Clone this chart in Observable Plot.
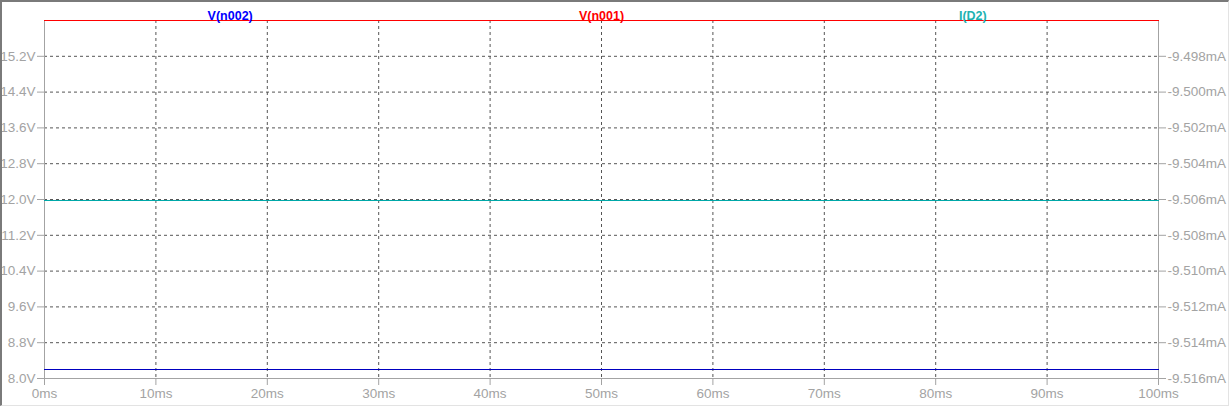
<!DOCTYPE html>
<html>
<head>
<meta charset="utf-8">
<script src="https://cdn.jsdelivr.net/npm/d3@7"></script>
<script src="https://cdn.jsdelivr.net/npm/@observablehq/plot@0.6"></script>
<style>
  html, body { margin: 0; padding: 0; background: #fff; }
  #wrap { position: relative; width: 1229px; height: 406px; overflow: hidden; }
  #frame { position: absolute; left: 0; top: 0; width: 1226px; height: 403px;
           border-left: 2px solid #7a7a7a; border-top: 2px solid #7a7a7a;
           border-right: 1px solid #e3e3e3; border-bottom: 1px solid #e3e3e3;
           box-sizing: content-box; pointer-events: none; }
  svg { display: block; }
</style>
</head>
<body>
<div id="wrap"><div id="frame"></div></div>
<script>
// ---- data ----
const timeMs = [0, 100];
const vN002 = [8.19, 8.19];        // V
const vN001 = [16.0, 16.0];        // V
const iD2 = [-9.50608, -9.50608];  // mA
const seriesNames = ["V(n002)", "V(n001)", "I(D2)"];
const seriesColors = ["#0000c0", "#ff0000", "#00a8a8"];
const labelColors = ["#0000ff", "#ff0000", "#20b2b2"];
const xTicks = [0, 10, 20, 30, 40, 50, 60, 70, 80, 90, 100];
const yTicksV = [8.0, 8.8, 9.6, 10.4, 11.2, 12.0, 12.8, 13.6, 14.4, 15.2];
const yTicksMA = ["-9.516mA", "-9.514mA", "-9.512mA", "-9.510mA", "-9.508mA", "-9.506mA", "-9.504mA", "-9.502mA", "-9.500mA", "-9.498mA"];
const yDomainV = [8, 16];
const mADomain = [-9.516, -9.496];

// map mA onto the left (volts) scale
const mAtoV = d3.scaleLinear().domain(mADomain).range(yDomainV);

const rows = [];
timeMs.forEach((t, i) => {
  rows.push({t, v: vN002[i], s: seriesNames[0]});
  rows.push({t, v: vN001[i], s: seriesNames[1]});
  rows.push({t, v: mAtoV(iD2[i]), s: seriesNames[2]});
});

const labels = seriesNames.map((s, i) => ({
  s, t: timeMs[0] + (timeMs[1] - timeMs[0]) * (i + 0.5) / seriesNames.length
}));

const gray = "#a3a3a3";
const chart = Plot.plot({
  width: 1229,
  height: 406,
  marginLeft: 44,
  marginRight: 71,
  marginTop: 20,
  marginBottom: 28,
  style: { fontFamily: "'Liberation Sans', Arial, sans-serif", fontSize: "13px", background: "transparent" },
  x: { domain: [0, 100] },
  y: { domain: yDomainV },
  color: { domain: seriesNames, range: seriesColors },
  marks: [
    Plot.gridX(xTicks.slice(1, -1), { stroke: "#555", strokeOpacity: 1, strokeDasharray: "3,3" }),
    Plot.gridY(yTicksV.slice(1), { stroke: "#555", strokeOpacity: 1, strokeDasharray: "3,3" }),
    Plot.axisX(xTicks, { tickSize: 7, tickPadding: 3, stroke: gray, color: gray, tickFormat: d => d + "ms", label: null, fontSize: 13.5 }),
    Plot.axisY(yTicksV, { anchor: "left", tickSize: 7, tickPadding: 2, stroke: gray, color: gray, tickFormat: d => d.toFixed(1) + "V", label: null, fontSize: 13.5 }),
    Plot.axisY(yTicksV, { anchor: "right", tickSize: 7, tickPadding: 2, stroke: gray, color: gray, tickFormat: (d, i) => yTicksMA[i], label: null, fontSize: 13.5 }),
    Plot.ruleX([0, 100], { stroke: gray, strokeWidth: 1 }),
    Plot.ruleY([yDomainV[0]], { stroke: gray, strokeWidth: 1 }),
    Plot.line(rows, { x: "t", y: "v", z: "s", stroke: "s", strokeWidth: 1, shapeRendering: "crispEdges" }),
    Plot.text(labels, { x: "t", frameAnchor: "top", dy: -9, text: "s", fill: (d, i) => labelColors[i], fontWeight: "bold", fontSize: 12.5 })
  ]
});
document.getElementById("wrap").prepend(chart);
</script>
</body>
</html>
